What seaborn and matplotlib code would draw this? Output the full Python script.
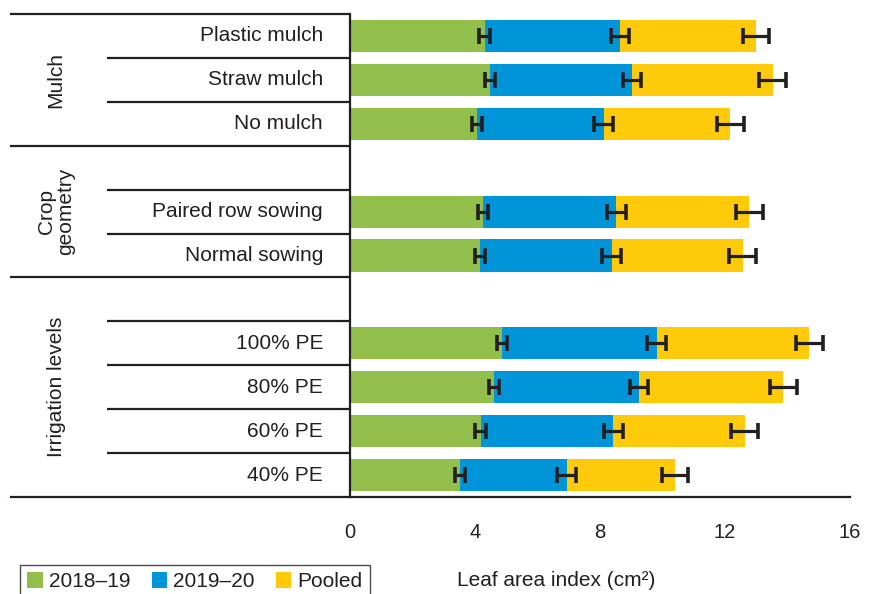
import numpy as np
import pandas as pd
import matplotlib
matplotlib.use("Agg")
import matplotlib.pyplot as plt
from matplotlib.patches import Patch
import seaborn as sns

# Treatments, top to bottom; blank slots separate the factor groups
slot_order = ["Plastic mulch", "Straw mulch", "No mulch", " ",
              "Paired row sowing", "Normal sowing", "  ",
              "100% PE", "80% PE", "60% PE", "40% PE"]
treatments = ["Plastic mulch", "Straw mulch", "No mulch",
              "Paired row sowing", "Normal sowing",
              "100% PE", "80% PE", "60% PE", "40% PE"]

# Leaf area index per season (stacked segment lengths)
lai_2018_19 = [4.31, 4.49, 4.06, 4.25, 4.17, 4.86, 4.61, 4.18, 3.51]
lai_2019_20 = [4.34, 4.53, 4.06, 4.27, 4.20, 4.95, 4.64, 4.24, 3.42]
lai_pooled = [4.34, 4.50, 4.05, 4.26, 4.20, 4.89, 4.62, 4.21, 3.47]

# Standard errors
se_2018_19 = [0.17, 0.165, 0.165, 0.16, 0.16, 0.15, 0.17, 0.17, 0.165]
se_2019_20 = [0.29, 0.30, 0.30, 0.30, 0.30, 0.30, 0.30, 0.30, 0.30]
se_pooled = [0.43, 0.43, 0.43, 0.44, 0.43, 0.43, 0.43, 0.43, 0.43]

groups = ["Mulch", "Crop\ngeometry", "Irrigation levels"]
group_centers = [1, 4, 8]

series_names = ["2018–19", "2019–20", "Pooled"]
colors = ["#92be4c", "#0095d8", "#ffca0a"]
ink = "#231f20"

sns.set_style("white")
plt.rcParams["font.family"] = ["Liberation Sans", "DejaVu Sans"]

df = pd.DataFrame({
    "Treatment": treatments,
    "s1": lai_2018_19,
    "s2": lai_2019_20,
    "s3": lai_pooled,
})
df["c1"] = df["s1"]
df["c2"] = df["c1"] + df["s2"]
df["c3"] = df["c2"] + df["s3"]

fig = plt.figure(figsize=(8.75, 5.94), dpi=100)
ax = fig.add_axes([350 / 875, 1 - 497 / 594, 500 / 875, (497 - 14) / 594])

# Stacked bars: draw cumulative totals from the outermost inwards
for col, c in zip(["c3", "c2", "c1"], colors[::-1]):
    sns.barplot(data=df, x=col, y="Treatment", order=slot_order, orient="h",
                color=c, saturation=1, width=0.73, linewidth=0,
                errorbar=None, ax=ax)

ypos = [slot_order.index(t) for t in treatments]
for col, se in zip(["c1", "c2", "c3"], [se_2018_19, se_2019_20, se_pooled]):
    ax.errorbar(df[col], ypos, xerr=se, fmt="none", ecolor=ink,
                elinewidth=2.3, capsize=5.5, capthick=2.6, zorder=5)

ax.set_xlim(0, 16)
ax.set_ylim(10.5, -0.5)
ax.set_xticks([0, 4, 8, 12, 16])
ax.set_yticks([])
ax.set_xlabel("")
ax.set_ylabel("")
ax.tick_params(axis="x", direction="out", length=4.5, width=1.6,
               color=ink, labelsize=14.5, labelcolor=ink, pad=14)
for s in ["top", "right"]:
    ax.spines[s].set_visible(False)
for s in ["left", "bottom"]:
    ax.spines[s].set_linewidth(1.6)
    ax.spines[s].set_color(ink)

# Row separators; group boundaries run across the group label column
trans = ax.get_yaxis_transform()
long_rows = {-0.5, 2.5, 5.5, 10.5}
for b in np.arange(-0.5, 11, 1.0):
    x0 = -0.68 if b in long_rows else -0.486
    ax.plot([x0, 0], [b, b], transform=trans, color=ink, lw=1.6,
            clip_on=False, solid_capstyle="butt")

# Treatment labels
for i, name in enumerate(slot_order):
    if name.strip():
        ax.text(-0.054, i, name, transform=trans, ha="right", va="center",
                fontsize=15, color=ink)

# Group labels
for g, yc in zip(groups, group_centers):
    ax.text(-0.588, yc, g, transform=trans, ha="center", va="center",
            rotation=90, fontsize=15, color=ink, multialignment="center",
            linespacing=1.0)

fig.text(556 / 875, 1 - 581 / 594, "Leaf area index (cm²)", ha="center",
         va="center", fontsize=15, color=ink)

handles = [Patch(facecolor=c, edgecolor="none") for c in colors]
leg = fig.legend(handles, series_names, loc="upper left",
                 bbox_to_anchor=(20 / 875, 1 - 565 / 594), ncol=3,
                 fontsize=15, frameon=True, fancybox=False,
                 handlelength=0.75, handleheight=0.75, handletextpad=0.3,
                 columnspacing=1.0, borderpad=0.35, borderaxespad=0)
leg.get_frame().set_edgecolor(ink)
leg.get_frame().set_linewidth(1.0)
for t in leg.get_texts():
    t.set_color(ink)

fig.savefig("out.png", dpi=100)
